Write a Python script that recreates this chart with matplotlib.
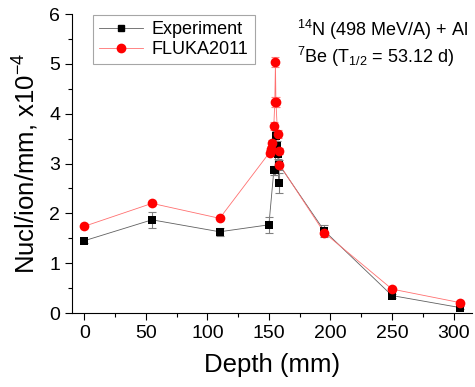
import numpy as np
import matplotlib.pyplot as plt
from matplotlib.lines import Line2D

plt.rcParams['font.family'] = ['Liberation Sans', 'DejaVu Sans']
plt.rcParams['mathtext.default'] = 'regular'

# measured 7Be production along the target depth
exp_x = [0, 55, 110, 150, 154, 155, 155.8, 156.5, 157.2, 158, 158.5, 195, 250, 305]
exp_y = [1.45, 1.87, 1.63, 1.77, 2.86, 2.86, 3.55, 3.35, 3.2, 2.6, 2.97, 1.65, 0.35, 0.11]
exp_err = [0.04, 0.16, 0.08, 0.16, 0.1, 0.1, 0.1, 0.1, 0.1, 0.2, 0.1, 0.12, 0.04, 0.03]

# FLUKA2011 simulation
sim_x = [0, 55, 110, 150.5, 151.5, 152.5, 154, 154.8, 155.3, 155.7, 157, 158, 158.6, 195, 250, 305]
sim_y = [1.74, 2.2, 1.9, 3.22, 3.3, 3.42, 3.76, 4.24, 5.03, 4.24, 3.6, 3.25, 2.98, 1.61, 0.48, 0.21]
sim_err = [0.02, 0.02, 0.02, 0.05, 0.05, 0.05, 0.08, 0.1, 0.1, 0.1, 0.08, 0.06, 0.05, 0.02, 0.02, 0.02]

fig = plt.figure(figsize=(4.75, 3.87), dpi=100)
ax = fig.add_axes([0.1516, 0.1912, 0.842, 0.7726])

# connecting lines are thin and lighter than the markers
ax.plot(exp_x, exp_y, color='#606060', lw=0.6, zorder=1)
ax.plot(sim_x, sim_y, color='#ff7070', lw=0.6, zorder=1)
ax.errorbar(exp_x, exp_y, yerr=exp_err, fmt='none', ecolor='#808080',
            elinewidth=0.8, capsize=3, capthick=0.8, zorder=2)
ax.errorbar(sim_x, sim_y, yerr=sim_err, fmt='none', ecolor='#ff8080',
            elinewidth=0.8, capsize=3, capthick=0.8, zorder=3)
ax.plot(exp_x, exp_y, 's', color='black', ms=6, mew=0, zorder=4)
ax.plot(sim_x, sim_y, 'o', color='red', ms=7, mew=0, zorder=5)

ax.set_xlim(-10, 315)
ax.set_ylim(0, 6)
ax.set_xticks(np.arange(0, 301, 50))
ax.set_xticks(np.arange(25, 301, 50), minor=True)
ax.set_yticks(np.arange(0, 7, 1))
ax.set_yticks(np.arange(0.5, 6, 1), minor=True)
ax.spines['top'].set_visible(False)
ax.spines['right'].set_visible(False)
ax.tick_params(which='major', direction='out', length=5, width=0.8, labelsize=14)
ax.tick_params(which='minor', direction='out', length=3, width=0.8)

ax.set_xlabel('Depth (mm)', fontsize=18.5, labelpad=8)
ax.set_ylabel(r'Nucl/ion/mm, x10$^{-4}$', fontsize=18.5, labelpad=6)

handles = [
    Line2D([], [], color='#606060', lw=0.6, marker='s', ms=5,
           mfc='black', mec='black'),
    Line2D([], [], color='#ff7070', lw=0.6, marker='o', ms=6,
           mfc='red', mec='red'),
]
leg = ax.legend(handles, ['Experiment', 'FLUKA2011'], loc='upper left',
                bbox_to_anchor=(0.0525, 0.997), fontsize=13,
                frameon=True, fancybox=False, edgecolor='#909090',
                handlelength=2.4, borderpad=0.35, labelspacing=0.15,
                handletextpad=0.5, borderaxespad=0.0)
leg.get_frame().set_linewidth(0.8)

ax.text(0.5625, 0.946, r'$^{14}$N (498 MeV/A) + Al', transform=ax.transAxes,
        fontsize=13, va='center')
ax.text(0.5625, 0.856, r'$^{7}$Be (T$_{1/2}$ = 53.12 d)', transform=ax.transAxes,
        fontsize=13, va='center')

fig.savefig('out.png', dpi=100)
